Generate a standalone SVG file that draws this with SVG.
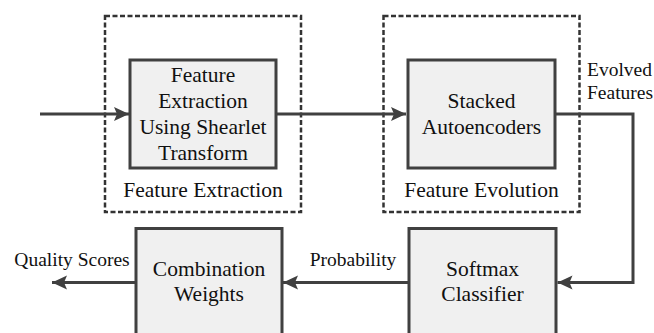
<svg xmlns="http://www.w3.org/2000/svg" width="654" height="333" viewBox="0 0 654 333">
  <style>
    .block { fill: #f0f0f0; stroke: #404040; stroke-width: 3; }
    .group { fill: none; stroke: #333333; stroke-width: 2.5; stroke-dasharray: 5 2.5; }
    .wire { fill: none; stroke: #404040; stroke-width: 3; }
  </style>
  <defs>
    <marker id="arrow" markerUnits="userSpaceOnUse" markerWidth="16" markerHeight="16" refX="15" refY="7" orient="auto">
      <path d="M0,0 L15,7 L0,14 L3,7 z" fill="#404040"/>
    </marker>
  </defs>
  <rect width="654" height="333" fill="#ffffff"/>

  <!-- dashed stage outlines -->
  <g id="stage-extraction">
    <rect class="group" x="105" y="16" width="196" height="196"/>
    <text font-family="Liberation Serif, serif" font-size="21.5" text-anchor="middle" fill="#111111" x="203" y="197">Feature Extraction</text>
  </g>
  <g id="stage-evolution">
    <rect class="group" x="383.5" y="16" width="196" height="196"/>
    <text font-family="Liberation Serif, serif" font-size="21.5" text-anchor="middle" fill="#111111" x="481.5" y="197">Feature Evolution</text>
  </g>

  <!-- connectors -->
  <g id="connectors">
    <line class="wire" x1="40" y1="114" x2="129" y2="114" marker-end="url(#arrow)"/>
    <line class="wire" x1="276" y1="114" x2="406" y2="114" marker-end="url(#arrow)"/>
    <polyline class="wire" points="555,114 633,114 633,282.5 557.5,282.5" marker-end="url(#arrow)"/>
    <line class="wire" x1="409" y1="282.5" x2="283" y2="282.5" marker-end="url(#arrow)"/>
    <line class="wire" x1="136" y1="282.5" x2="52" y2="282.5" marker-end="url(#arrow)"/>
    <text font-family="Liberation Serif, serif" font-size="19.5" fill="#111111" x="587" y="76">Evolved</text>
    <text font-family="Liberation Serif, serif" font-size="19.5" fill="#111111" x="587" y="99">Features</text>
    <text font-family="Liberation Serif, serif" font-size="19.5" fill="#111111" x="353" y="266" text-anchor="middle">Probability</text>
    <text font-family="Liberation Serif, serif" font-size="19.5" fill="#111111" x="72" y="266" text-anchor="middle">Quality Scores</text>
  </g>

  <!-- processing blocks -->
  <g id="shearlet">
    <rect class="block" x="130" y="60" width="146" height="108"/>
    <text font-family="Liberation Serif, serif" font-size="21.5" text-anchor="middle" fill="#111111" x="203" y="82">Feature</text>
    <text font-family="Liberation Serif, serif" font-size="21.5" text-anchor="middle" fill="#111111" x="203" y="108">Extraction</text>
    <text font-family="Liberation Serif, serif" font-size="21.5" text-anchor="middle" fill="#111111" x="203" y="134">Using Shearlet</text>
    <text font-family="Liberation Serif, serif" font-size="21.5" text-anchor="middle" fill="#111111" x="203" y="160">Transform</text>
  </g>
  <g id="autoencoders">
    <rect class="block" x="408" y="60" width="147" height="108"/>
    <text font-family="Liberation Serif, serif" font-size="21.5" text-anchor="middle" fill="#111111" x="481.5" y="108">Stacked</text>
    <text font-family="Liberation Serif, serif" font-size="21.5" text-anchor="middle" fill="#111111" x="481.5" y="134">Autoencoders</text>
  </g>
  <g id="softmax">
    <rect class="block" x="409" y="228.5" width="147" height="120"/>
    <text font-family="Liberation Serif, serif" font-size="21.5" text-anchor="middle" fill="#111111" x="482.5" y="276">Softmax</text>
    <text font-family="Liberation Serif, serif" font-size="21.5" text-anchor="middle" fill="#111111" x="482.5" y="301">Classifier</text>
  </g>
  <g id="combination">
    <rect class="block" x="136" y="228.5" width="146" height="120"/>
    <text font-family="Liberation Serif, serif" font-size="21.5" text-anchor="middle" fill="#111111" x="209" y="276">Combination</text>
    <text font-family="Liberation Serif, serif" font-size="21.5" text-anchor="middle" fill="#111111" x="209" y="301">Weights</text>
  </g>
</svg>
